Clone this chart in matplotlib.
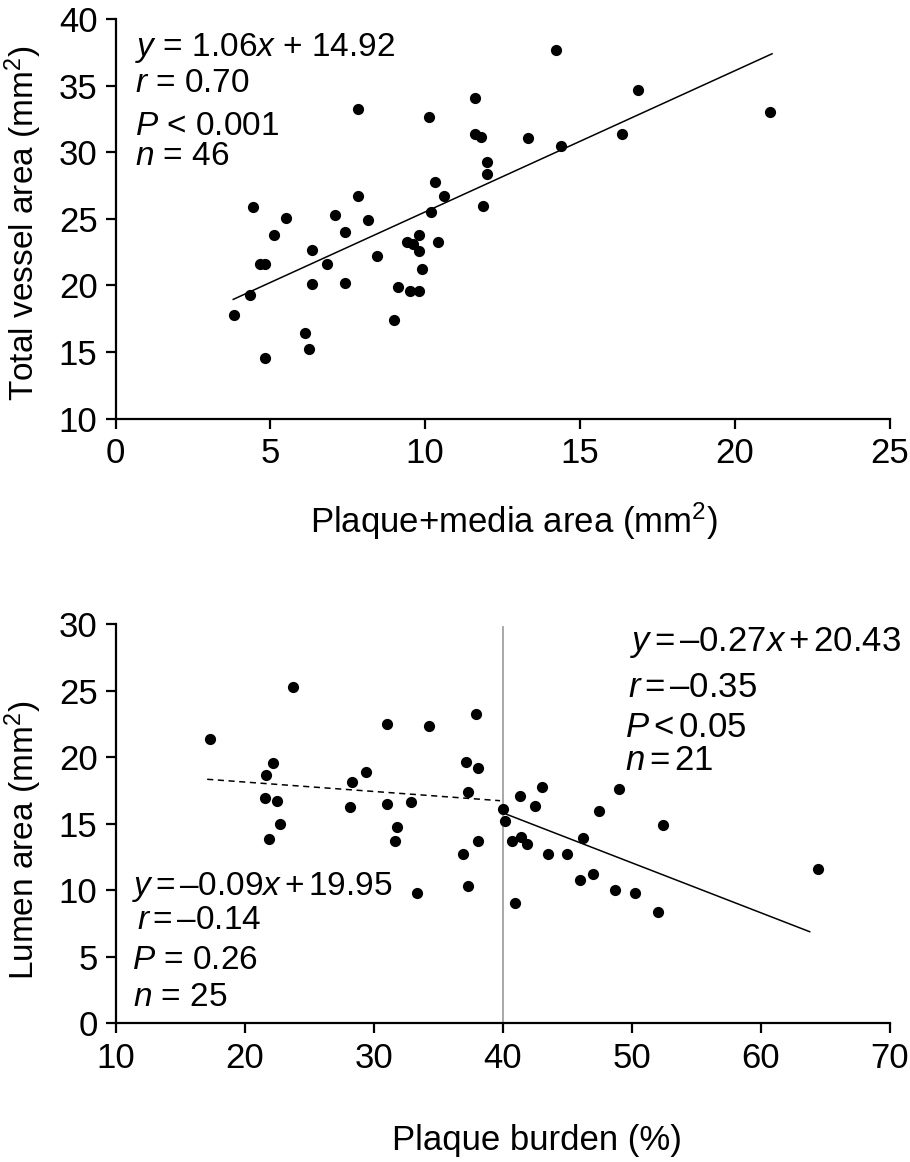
"""
   Two-panel scatter: vessel area vs plaque+media, lumen area vs plaque burden
"""

import matplotlib
matplotlib.use("Agg")
import matplotlib.pyplot as plt

plt.rcParams["font.family"] = ["Liberation Sans", "DejaVu Sans"]
plt.rcParams["mathtext.fontset"] = "custom"
plt.rcParams["mathtext.rm"] = "Liberation Sans"
plt.rcParams["mathtext.it"] = "Liberation Sans:italic"

#       Top panel data (plaque+media area, total vessel area)
pm_area = [14.23, 16.88, 11.62, 7.84, 10.12, 11.60, 11.81, 13.31, 16.36, 14.38,
           12.01, 12.01, 10.30, 10.60, 7.84, 4.44, 11.88, 5.51, 7.10, 8.15,
           10.20, 7.40, 5.13, 9.81, 9.41, 9.59, 10.41, 9.81, 6.34, 8.45,
           6.84, 4.66, 4.84, 9.90, 6.34, 7.40, 9.13, 9.51, 9.81, 4.35,
           3.84, 9.00, 6.12, 6.25, 4.84, 21.14]
vessel_area = [37.67, 34.66, 34.08, 33.21, 32.68, 31.40, 31.15, 31.08, 31.38, 30.50,
               29.23, 28.37, 27.80, 26.71, 26.71, 25.86, 25.96, 25.09, 25.32, 24.89,
               25.51, 24.04, 23.78, 23.81, 23.29, 23.14, 23.26, 22.61, 22.63, 22.18,
               21.63, 21.63, 21.63, 21.20, 20.10, 20.20, 19.87, 19.55, 19.55, 19.25,
               17.74, 17.37, 16.41, 15.21, 14.56, 33.01]
top_slope, top_intercept = 1.06, 14.92
top_fit_x = [3.8, 21.2]

#       Bottom panel data, plaque burden < 40 %
burden_lo = [17.35, 23.76, 22.19, 21.67, 21.57, 22.54, 22.73, 21.92, 31.07, 34.28,
             29.44, 28.31, 28.18, 31.07, 32.93, 31.80, 31.69, 37.92, 37.17, 38.10,
             37.35, 38.10, 36.96, 33.40, 37.35]
lumen_lo = [21.39, 25.30, 19.56, 18.71, 16.93, 16.73, 14.98, 13.85, 22.50, 22.37,
            18.89, 18.14, 16.28, 16.53, 16.63, 14.80, 13.70, 23.25, 19.66, 19.23,
            17.38, 13.70, 12.74, 9.83, 10.36]
#       plaque burden >= 40 %
burden_hi = [43.06, 41.38, 42.54, 40.00, 49.05, 47.48, 52.44, 40.17, 40.76, 41.43,
             41.88, 43.55, 45.02, 46.19, 46.99, 46.03, 48.72, 50.27, 52.05, 40.99,
             64.43]
lumen_hi = [17.76, 17.11, 16.33, 16.10, 17.61, 15.98, 14.92, 15.23, 13.70, 14.00,
            13.50, 12.74, 12.74, 13.92, 11.22, 10.81, 10.06, 9.81, 8.41, 9.04,
            11.62]

#       fitted lines as drawn in the figure
lo_fit_x = [17.1, 39.8]
lo_fit_y = [18.36, 16.75]
hi_fit_x = [40.3, 63.8]
hi_fit_y = [15.73, 6.90]
cutoff = 40

fs = 25      # tick labels, x labels
fs_y = 24    # y labels
fs_t = 24    # annotations


def style(ax):
    for s in ("top", "right"):
        ax.spines[s].set_visible(False)
    for s in ("left", "bottom"):
        ax.spines[s].set_linewidth(1.6)
    ax.tick_params(direction="out", length=7, width=1.6, labelsize=fs, pad=6)


fig = plt.figure(figsize=(9.10, 11.62), dpi=100)

#       Top panel
ax1 = fig.add_axes([0.127, 0.6398, 0.8507, 0.3438])
ax1.scatter(pm_area, vessel_area, s=65, color="black", zorder=3, linewidths=0)
ax1.plot(top_fit_x, [top_slope * x + top_intercept for x in top_fit_x],
         color="black", lw=1.1)
ax1.set_xlim(0, 25)
ax1.set_ylim(10, 40)
ax1.set_xticks(range(0, 26, 5))
ax1.set_yticks(range(10, 41, 5))
style(ax1)
ax1.set_xlabel("Plaque+media area (mm$^2$)", fontsize=fs)
ax1.set_ylabel("Total vessel area (mm$^2$)", fontsize=fs_y)
ax1.xaxis.set_label_coords(0.515, -0.205)
ax1.yaxis.set_label_coords(-0.093, 0.49)

tr = ax1.transAxes
ax1.text(0.025, 0.928, "$\\it{y}$ = 1.06$\\it{x}$ + 14.92", fontsize=fs_t, transform=tr, va="center")
ax1.text(0.025, 0.838, "$\\it{r}$ = 0.70", fontsize=fs_t, transform=tr, va="center")
ax1.text(0.025, 0.730, "$\\it{P}$ < 0.001", fontsize=fs_t, transform=tr, va="center")
ax1.text(0.025, 0.655, "$\\it{n}$ = 46", fontsize=fs_t, transform=tr, va="center")

#       Bottom panel
ax2 = fig.add_axes([0.127, 0.1192, 0.8507, 0.3434])
ax2.plot([cutoff, cutoff], [0, 29.8], color="#999999", lw=1.2, zorder=1)
ax2.scatter(burden_lo, lumen_lo, s=65, color="black", zorder=3, linewidths=0)
ax2.scatter(burden_hi, lumen_hi, s=65, color="black", zorder=3, linewidths=0)
ax2.plot(lo_fit_x, lo_fit_y, color="black", lw=1.1, ls=(0, (4, 3)))
ax2.plot(hi_fit_x, hi_fit_y, color="black", lw=1.1)
ax2.set_xlim(10, 70)
ax2.set_ylim(0, 30)
ax2.set_xticks(range(10, 71, 10))
ax2.set_yticks(range(0, 31, 5))
style(ax2)
ax2.set_xlabel("Plaque burden (%)", fontsize=fs)
ax2.set_ylabel("Lumen area (mm$^2$)", fontsize=fs_y)
ax2.xaxis.set_label_coords(0.544, -0.253)
ax2.yaxis.set_label_coords(-0.093, 0.46)

tr = ax2.transAxes
ax2.text(0.665, 0.954, "$\\it{y}$$\\,$=$\\,$\u20130.27$\\it{x}$$\\,$+$\\,$20.43", fontsize=fs, transform=tr, va="center")
ax2.text(0.662, 0.843, "$\\it{r}$$\\,$=$\\,$\u20130.35", fontsize=fs, transform=tr, va="center")
ax2.text(0.658, 0.743, "$\\it{P}$$\\,$<$\\,$0.05", fontsize=fs, transform=tr, va="center")
ax2.text(0.658, 0.660, "$\\it{n}$$\\,$=$\\,$21", fontsize=fs, transform=tr, va="center")

ax2.text(0.021, 0.343, "$\\it{y}$$\\,$=$\\,$\u20130.09$\\it{x}$$\\,$+$\\,$19.95", fontsize=fs_t, transform=tr, va="center")
ax2.text(0.028, 0.259, "$\\it{r}$$\\,$=$\\,$\u20130.14", fontsize=fs_t, transform=tr, va="center")
ax2.text(0.021, 0.159, "$\\it{P}$ = 0.26", fontsize=fs_t, transform=tr, va="center")
ax2.text(0.023, 0.066, "$\\it{n}$ = 25", fontsize=fs_t, transform=tr, va="center")

fig.savefig("out.png", dpi=100)
